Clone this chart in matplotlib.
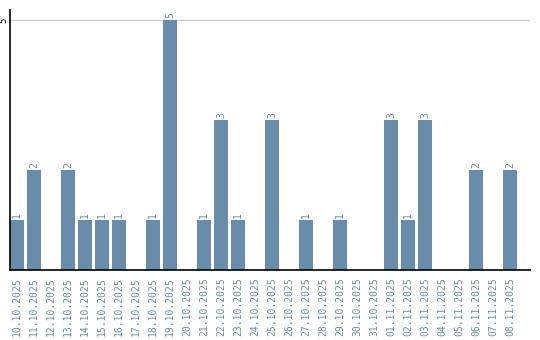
import matplotlib
matplotlib.use("Agg")
import matplotlib.pyplot as plt
import numpy as np

dates = ["10.10.2025", "11.10.2025", "12.10.2025", "13.10.2025", "14.10.2025",
         "15.10.2025", "16.10.2025", "17.10.2025", "18.10.2025", "19.10.2025",
         "20.10.2025", "21.10.2025", "22.10.2025", "23.10.2025", "24.10.2025",
         "25.10.2025", "26.10.2025", "27.10.2025", "28.10.2025", "29.10.2025",
         "30.10.2025", "31.10.2025", "01.11.2025", "02.11.2025", "03.11.2025",
         "04.11.2025", "05.11.2025", "06.11.2025", "07.11.2025", "08.11.2025"]
counts = [1, 2, 0, 2, 1, 1, 1, 0, 1, 5,
          0, 1, 3, 1, 0, 3, 0, 1, 0, 1,
          0, 0, 3, 1, 3, 0, 0, 2, 0, 2]

bar_color = "#6a8cab"
mono = "DejaVu Sans Mono"

fig = plt.figure(figsize=(5.4, 3.4), dpi=100)
ax = fig.add_axes([10/540, 1 - 270/340, 520/540, 260/340])

x = np.arange(len(dates))
ax.bar(x, counts, width=0.82, color=bar_color, zorder=2)

# value labels, skip the empty days
for xi, c in zip(x, counts):
    if c > 0:
        ax.text(xi, c + 0.05, str(c), rotation=90, ha="center", va="bottom",
                color=bar_color, fontsize=7, family=mono)

ax.set_xlim(-0.41, 30.18)
ax.set_ylim(0, 5.2)
ax.set_yticks([5])
ax.set_yticklabels(["5"], rotation=90, va="center", family=mono, fontsize=6.5)
ax.yaxis.grid(True, color="#cccccc", linewidth=1, zorder=0)
ax.tick_params(axis="y", length=0, pad=1)

ax.set_xticks(x)
ax.set_xticklabels(dates, rotation=90, family=mono, fontsize=7, color=bar_color)
ax.tick_params(axis="x", length=0, pad=5)

for side in ["top", "right"]:
    ax.spines[side].set_visible(False)
ax.spines["left"].set_color("black")
ax.spines["bottom"].set_color("black")
ax.spines["left"].set_linewidth(1.2)
ax.spines["bottom"].set_linewidth(1.2)

fig.savefig("out.png", dpi=100)
